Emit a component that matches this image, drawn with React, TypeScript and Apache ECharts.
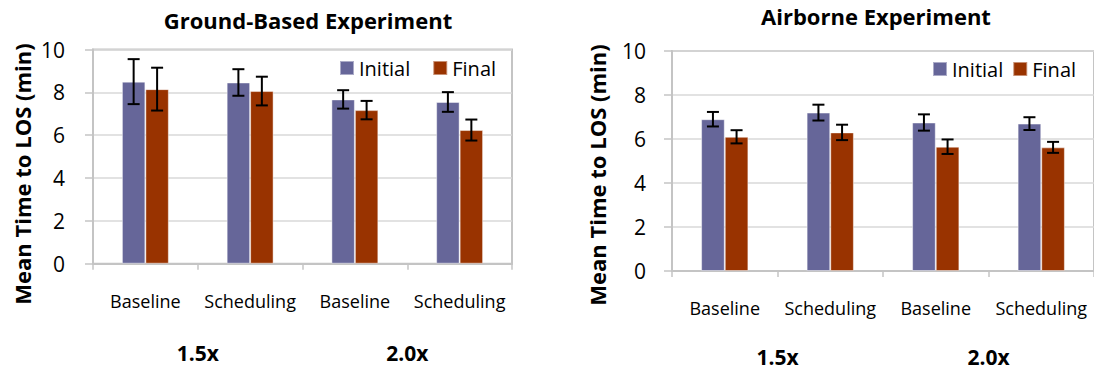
import React, { useEffect, useRef } from "react";
import * as echarts from "echarts";

const categories = ["Baseline", "Scheduling", "Baseline", "Scheduling"];
const groups = ["1.5x", "2.0x"];
const yTicks = { min: 0, max: 10, interval: 2 };

const groundInitial = [8.5, 8.46, 7.67, 7.55];
const groundInitialErr = [1.05, 0.62, 0.43, 0.46];
const groundFinal = [8.15, 8.06, 7.17, 6.24];
const groundFinalErr = [1.0, 0.67, 0.43, 0.49];

const airInitial = [6.9, 7.2, 6.75, 6.7];
const airInitialErr = [0.33, 0.36, 0.37, 0.29];
const airFinal = [6.1, 6.3, 5.65, 5.62];
const airFinalErr = [0.3, 0.35, 0.33, 0.25];

const titles = ["Ground-Based Experiment", "Airborne Experiment"];
const yName = "Mean Time to LOS (min)";

const FONT = "'Open Sans', sans-serif";
const C_INITIAL = "#666699";
const C_FINAL = "#993300";
const AXIS_GRAY = "#c4c4c4";
const GRID_GRAY = "#d9d9d9";
const BAR_RATIO = 0.224;

function errData(vals: number[], errs: number[]) {
  return vals.map((v, i) => [i, v, errs[i]]);
}

function errorSeries(gridIdx: number, sign: number, vals: number[], errs: number[]) {
  return {
    type: "custom",
    xAxisIndex: gridIdx * 2,
    yAxisIndex: gridIdx,
    silent: true,
    z: 10,
    data: errData(vals, errs),
    encode: { x: 0, y: 1 },
    renderItem: (params: any, api: any) => {
      const cat = api.value(0);
      const v = api.value(1);
      const e = api.value(2);
      const band = api.size([1, 0])[0];
      const cx = api.coord([cat, v])[0] + sign * band * BAR_RATIO * 0.5;
      const yTop = api.coord([cat, v + e])[1];
      const yBot = api.coord([cat, v - e])[1];
      const cap = 6;
      const style = { stroke: "#000", lineWidth: 2 };
      return {
        type: "group",
        children: [
          { type: "line", shape: { x1: cx, y1: yTop, x2: cx, y2: yBot }, style },
          { type: "line", shape: { x1: cx - cap, y1: yTop, x2: cx + cap, y2: yTop }, style },
          { type: "line", shape: { x1: cx - cap, y1: yBot, x2: cx + cap, y2: yBot }, style },
        ],
      };
    },
  };
}

function barSeries(gridIdx: number, name: string, color: string, vals: number[]) {
  return {
    type: "bar",
    name,
    xAxisIndex: gridIdx * 2,
    yAxisIndex: gridIdx,
    data: vals,
    barWidth: BAR_RATIO * 100 + "%",
    barGap: "0%",
    itemStyle: { color, borderColor: "rgba(255,255,255,0.45)", borderWidth: 1 },
  };
}

function xAxes(gridIdx: number, catMargin: number, groupMargin: number) {
  return [
    {
      type: "category",
      gridIndex: gridIdx,
      data: categories,
      position: "bottom",
      axisLine: { show: true, lineStyle: { color: AXIS_GRAY, width: 2 } },
      axisTick: { show: true, length: 6, lineStyle: { color: AXIS_GRAY, width: 1.5 } },
      axisLabel: { margin: catMargin, fontSize: 18, fontFamily: FONT, color: "#000", interval: 0 },
    },
    {
      type: "category",
      gridIndex: gridIdx,
      data: groups,
      position: "bottom",
      axisLine: { show: false },
      axisTick: { show: false },
      axisLabel: {
        margin: groupMargin,
        fontSize: 21,
        lineHeight: 20,
        fontWeight: "bold",
        fontFamily: FONT,
        color: "#000",
        interval: 0,
      },
    },
  ];
}

function yAxis(gridIdx: number, labelMargin: number) {
  return {
    type: "value",
    gridIndex: gridIdx,
    min: yTicks.min,
    max: yTicks.max,
    interval: yTicks.interval,
    axisLine: { show: true, lineStyle: { color: AXIS_GRAY, width: 2 } },
    axisTick: { show: true, length: 8, lineStyle: { color: AXIS_GRAY, width: 1.5 } },
    splitLine: { show: true, lineStyle: { color: GRID_GRAY, width: 1.5 } },
    axisLabel: { margin: labelMargin, fontSize: 21, fontFamily: FONT, color: "#000" },
  };
}

export default function App() {
  const ref = useRef<HTMLDivElement>(null);
  useEffect(() => {
    if (!ref.current) return;
    const chart = echarts.init(ref.current, null, { renderer: "svg" });
    const option: any = {
      animation: false,
      backgroundColor: "#fff",
      title: [
        {
          text: titles[0],
          left: 308,
          top: 9,
          textAlign: "center",
          padding: 0,
          textStyle: { fontSize: 22, fontWeight: "bold", fontFamily: FONT, color: "#000" },
        },
        {
          text: titles[1],
          left: 876,
          top: 5,
          textAlign: "center",
          padding: 0,
          textStyle: { fontSize: 22, fontWeight: "bold", fontFamily: FONT, color: "#000" },
        },
      ],
      legend: [
        {
          data: ["Initial", "Final"],
          left: 339,
          top: 58,
          padding: 0,
          itemWidth: 14,
          itemHeight: 14,
          itemGap: 22,
          icon: "rect",
          textStyle: { fontSize: 20, fontFamily: FONT, color: "#000" },
        },
        {
          data: ["Initial", "Final"],
          left: 932,
          top: 59,
          padding: 0,
          itemWidth: 14,
          itemHeight: 14,
          itemGap: 9,
          icon: "rect",
          textStyle: { fontSize: 20, fontFamily: FONT, color: "#000" },
        },
      ],
      grid: [
        { left: 93, top: 49.5, width: 419, height: 214.2, show: true, borderColor: AXIS_GRAY, borderWidth: 2, backgroundColor: "transparent" },
        { left: 672, top: 51, width: 425, height: 220, show: true, borderColor: AXIS_GRAY, borderWidth: 2, backgroundColor: "transparent" },
      ],
      xAxis: [...xAxes(0, 28, 79), ...xAxes(1, 28, 76)],
      yAxis: [yAxis(0, 28), yAxis(1, 26)],
      graphic: [
        {
          type: "text",
          x: 22,
          y: 174,
          rotation: Math.PI / 2,
          style: {
            text: yName,
            font: `bold 22px ${FONT}`,
            fill: "#000",
            textAlign: "center",
            textVerticalAlign: "middle",
          },
        },
        {
          type: "text",
          x: 597,
          y: 175,
          rotation: Math.PI / 2,
          style: {
            text: yName,
            font: `bold 22px ${FONT}`,
            fill: "#000",
            textAlign: "center",
            textVerticalAlign: "middle",
          },
        },
      ],
      series: [
        barSeries(0, "Initial", C_INITIAL, groundInitial),
        barSeries(0, "Final", C_FINAL, groundFinal),
        barSeries(1, "Initial", C_INITIAL, airInitial),
        barSeries(1, "Final", C_FINAL, airFinal),
        errorSeries(0, -1, groundInitial, groundInitialErr),
        errorSeries(0, 1, groundFinal, groundFinalErr),
        errorSeries(1, -1, airInitial, airInitialErr),
        errorSeries(1, 1, airFinal, airFinalErr),
      ],
    };
    chart.setOption(option);
    return () => chart.dispose();
  }, []);
  return (
    <div
      ref={ref}
      style={{ position: "absolute", left: 0, top: 0, width: 1094, height: 372 }}
    />
  );
}
